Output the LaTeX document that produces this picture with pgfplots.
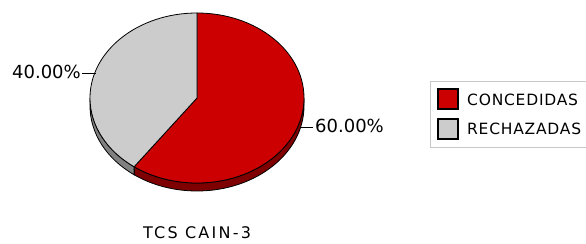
\documentclass[border=0pt]{standalone}
\usepackage{fontspec}
\setmainfont{DejaVu Sans}
\newfontfamily\spaced[LetterSpace=14]{DejaVu Sans}
\newfontfamily\legfont[LetterSpace=5]{DejaVu Sans}
\usepackage{pgfplots}
\usepackage{pgfplotstable}
\pgfplotsset{compat=1.18}
\definecolor{redtop}{HTML}{CC0000}
\definecolor{redside}{HTML}{7F0000}
\definecolor{graytop}{HTML}{CCCCCC}
\definecolor{grayside}{HTML}{808080}
\definecolor{frame}{HTML}{C8C8C8}
\pgfplotstableread{
label value
CONCEDIDAS 60
RECHAZADAS 40
}\piedata
\pgfplotstablegetelem{0}{value}\of\piedata \let\valA\pgfplotsretval
\pgfplotstablegetelem{1}{value}\of\piedata \let\valB\pgfplotsretval
\pgfmathsetmacro\tot{\valA+\valB}
\pgfmathsetmacro\angA{90-360*(\valA/\tot)}   % red wedge: 90 -> angA (clockwise)
\pgfmathsetmacro\grayBack{\angA+360}
\tikzset{ell/.style={x radius=107bp, y radius=85bp}}
\begin{document}
\begin{tikzpicture}
\path[use as bounding box] (0,0) rectangle (586bp,244bp);
\begin{axis}[
  at={(0,0)}, anchor=south west,
  width=586bp, height=244bp, scale only axis,
  xmin=0, xmax=586, ymin=0, ymax=244, y dir=reverse,
  hide axis, clip=false,
]
% sides (3D depth)
\filldraw[fill=redside, draw=black, line width=0.8bp]
  (axis cs:197,98) ++(\angA:107bp and 85bp)
  arc[start angle=\angA, end angle=0, ell]
  -- ++(0,-8bp)
  arc[start angle=0, end angle=\angA, ell] -- cycle;
\filldraw[fill=grayside, draw=black, line width=0.8bp]
  (axis cs:197,98) ++(180:107bp and 85bp)
  arc[start angle=180, end angle=\grayBack, ell]
  -- ++(0,-8bp)
  arc[start angle=\grayBack, end angle=180, ell] -- cycle;
% top wedges
\filldraw[fill=redtop, draw=black, line width=0.8bp]
  (axis cs:197,98) -- ++(90:107bp and 85bp)
  arc[start angle=90, end angle=\angA, ell] -- cycle;
\filldraw[fill=graytop, draw=black, line width=0.8bp]
  (axis cs:197,98) -- ++(90:107bp and 85bp)
  arc[start angle=90, end angle=\grayBack, ell] -- cycle;
% percentage labels
\draw[line width=0.8bp] (axis cs:82,73) -- (axis cs:96,73);
\node[anchor=east, inner sep=0pt, font=\fontsize{18bp}{20bp}\selectfont] at (axis cs:81,72) {40.00\%};
\draw[line width=0.8bp] (axis cs:301,127) -- (axis cs:313,127);
\node[anchor=west, inner sep=0pt, font=\fontsize{18bp}{20bp}\selectfont] at (axis cs:315,126) {60.00\%};
% legend
\draw[frame, line width=1bp] (axis cs:600,81) -- (axis cs:430,81) -- (axis cs:430,147) -- (axis cs:600,147);
\filldraw[fill=redtop, draw=black, line width=1.2bp] (axis cs:438,89) rectangle (axis cs:458,109);
\filldraw[fill=graytop, draw=black, line width=1.2bp] (axis cs:438,119) rectangle (axis cs:458,139);
\node[anchor=west, inner sep=0pt, font=\legfont\fontsize{15.5bp}{18bp}\selectfont] at (axis cs:467,99.5) {CONCEDIDAS};
\node[anchor=west, inner sep=0pt, font=\legfont\fontsize{15.5bp}{18bp}\selectfont] at (axis cs:467,129) {RECHAZADAS};
% title
\node[inner sep=0pt, font=\spaced\fontsize{16bp}{18bp}\selectfont] at (axis cs:197,233) {TCS CAIN-3};
\end{axis}
\end{tikzpicture}
\end{document}
